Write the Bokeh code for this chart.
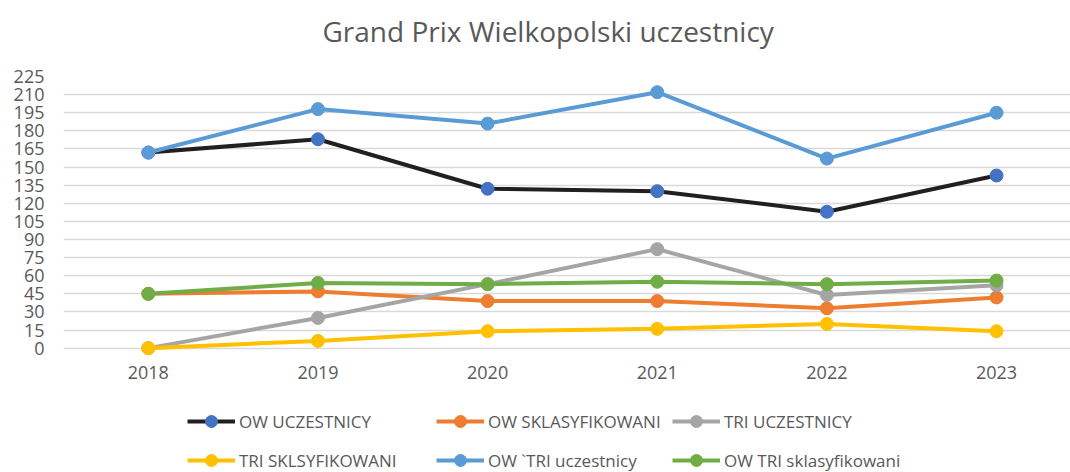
from bokeh.plotting import figure
from bokeh.models import Legend, LegendItem, FixedTicker, Range1d, Title
from bokeh.embed import file_html
from bokeh.resources import INLINE

years = [2018, 2019, 2020, 2021, 2022, 2023]
ow_uczestnicy = [162, 173, 132, 130, 113, 143]
ow_sklasyfikowani = [45, 47, 39, 39, 33, 42]
tri_uczestnicy = [0, 25, 53, 82, 44, 52]
tri_sklsyfikowani = [0, 6, 14, 16, 20, 14]
ow_tri_uczestnicy = [162, 198, 186, 212, 157, 195]
ow_tri_sklasyfikowani = [45, 54, 53, 55, 53, 56]
y_ticks = list(range(0, 226, 15))

series = [
    ("OW UCZESTNICY", ow_uczestnicy, "#231f20", "#4472c4"),
    ("OW SKLASYFIKOWANI", ow_sklasyfikowani, "#ed7d31", "#ed7d31"),
    ("TRI UCZESTNICY", tri_uczestnicy, "#a5a5a5", "#a5a5a5"),
    ("TRI SKLSYFIKOWANI", tri_sklsyfikowani, "#ffc000", "#ffc000"),
    ("OW `TRI uczestnicy", ow_tri_uczestnicy, "#5b9bd5", "#5b9bd5"),
    ("OW TRI sklasyfikowani", ow_tri_sklasyfikowani, "#70ad47", "#70ad47"),
]

FONT = "Open Sans"
GREY = "#595959"

# frame spans from the top gridline to the bottom of the page; the legend sits inside it
PX_PER_UNIT = 273 / 225.0
y_bottom = -125 / PX_PER_UNIT

p = figure(width=1070, height=472, output_backend="svg", toolbar_location=None,
           x_range=Range1d(2017.5, 2023.436), y_range=Range1d(y_bottom, 225),
           min_border_left=63, min_border_right=0, min_border_top=74, min_border_bottom=0,
           title=None)
p.outline_line_color = None
p.background_fill_color = "white"
p.border_fill_color = "white"

spacer = Title(text=" ", text_font_size="14px", standoff=0)
p.add_layout(spacer, "above")
title = Title(text="Grand Prix Wielkopolski uczestnicy", align="left", offset=259,
              standoff=18, text_font=FONT, text_font_size="28px",
              text_font_style="normal", text_color=GREY)
p.add_layout(title, "above")

for ax in (p.xaxis, p.yaxis):
    ax.axis_line_color = None
    ax.major_tick_line_color = None
    ax.minor_tick_line_color = None
    ax.major_label_text_font = FONT
    ax.major_label_text_font_size = "18px"
    ax.major_label_text_color = GREY

p.xaxis.ticker = FixedTicker(ticks=years)
p.xaxis.fixed_location = 0
p.yaxis.ticker = FixedTicker(ticks=y_ticks)
p.xaxis.major_label_standoff = 12
p.yaxis.major_label_standoff = 13

p.xgrid.grid_line_color = None
p.ygrid.grid_line_color = "#d9d9d9"
p.ygrid.grid_line_width = 1.5

items = []
for name, vals, lc, mc in series:
    l = p.line(years, vals, line_color=lc, line_width=4)
    s = p.scatter(years, vals, size=13, fill_color=mc, line_color=mc)
    items.append(LegendItem(label=name, renderers=[l, s]))

columns = [(124, [items[0], items[3]]), (373, [items[1], items[4]]), (609, [items[2], items[5]])]
for x, its in columns:
    legend = Legend(items=its, location=(x, -3), orientation="vertical")
    legend.label_text_font = FONT
    legend.label_text_font_size = "17px"
    legend.label_text_color = GREY
    legend.glyph_width = 48
    legend.glyph_height = 30
    legend.label_standoff = 4
    legend.spacing = 9
    legend.border_line_color = None
    legend.background_fill_alpha = 0
    legend.padding = 0
    legend.margin = 0
    p.add_layout(legend, "center")

open("out.html", "w").write(file_html(p, INLINE))
